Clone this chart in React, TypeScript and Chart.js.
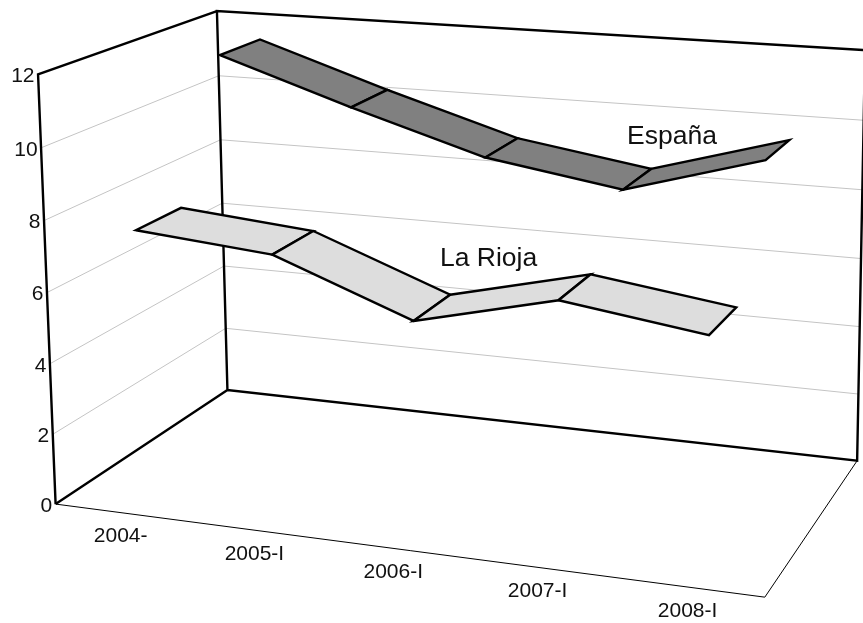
import React, { useEffect, useRef } from "react";
import { Chart, registerables } from "chart.js";

Chart.register(...registerables);

// ---- data ----
const categories = ["2004-", "2005-I", "2006-I", "2007-I", "2008-I"];
const espana = [11.45, 10.15, 8.95, 8.3, 9.4];
const laRioja = [7.56, 7.2, 5.72, 6.63, 6.06];
const valueTicks = [0, 2, 4, 6, 8, 10, 12];
const seriesNames = ["España", "La Rioja"];

const W = 863;
const H = 623;
const Y_MAX = 12;
const FONT = '"Liberation Sans", Arial, sans-serif';

// ---- 3D box camera, fitted to the box's corners ----
// [category 0..1, value 0..1, depth 0..1] -> [px, px]
const boxCorners = [
  [0, 0, 0, 55.5, 504], [1, 0, 0, 765, 597], [1, 0, 1, 857, 461], [0, 0, 1, 227.5, 390],
  [0, 1, 0, 38, 74.5], [0, 1, 1, 217, 11], [1, 1, 1, 865, 50],
];

function solve(A: number[][], b: number[]) {
  const n = b.length;
  const M = A.map((r, i) => [...r, b[i]]);
  for (let i = 0; i < n; i++) {
    let p = i;
    for (let k = i; k < n; k++) if (Math.abs(M[k][i]) > Math.abs(M[p][i])) p = k;
    [M[i], M[p]] = [M[p], M[i]];
    for (let k = 0; k < n; k++) {
      if (k === i) continue;
      const f = M[k][i] / M[i][i];
      for (let j = i; j <= n; j++) M[k][j] -= f * M[i][j];
    }
  }
  return M.map((r, i) => r[n] / r[i]);
}

function fitCamera() {
  const R: number[][] = [];
  const B: number[] = [];
  for (const [x, y, z, u, v] of boxCorners) {
    R.push([x, y, z, 1, 0, 0, 0, 0, -u * x, -u * y, -u * z]); B.push(u);
    R.push([0, 0, 0, 0, x, y, z, 1, -v * x, -v * y, -v * z]); B.push(v);
  }
  const n = 11;
  const A = Array.from({ length: n }, (_, i) =>
    Array.from({ length: n }, (_, j) => R.reduce((s, r) => s + r[i] * r[j], 0)));
  const c = Array.from({ length: n }, (_, i) => R.reduce((s, r, k) => s + r[i] * B[k], 0));
  return solve(A, c);
}

const cam = fitCamera();

function project(t: number, value: number, z: number) {
  const y = value / Y_MAX;
  const w = cam[8] * t + cam[9] * y + cam[10] * z + 1;
  return {
    x: (cam[0] * t + cam[1] * y + cam[2] * z + cam[3]) / w,
    y: (cam[4] * t + cam[5] * y + cam[6] * z + cam[7]) / w,
  };
}

const catT = (i: number) => (i + 0.5) / categories.length;

function lineDs(points: { x: number; y: number }[], color: string, width: number, fillColor?: string) {
  return {
    data: points,
    showLine: true,
    borderColor: color,
    borderWidth: width,
    borderJoinStyle: "miter",
    pointRadius: 0,
    pointHoverRadius: 0,
    tension: 0,
    fill: fillColor ? "shape" : false,
    backgroundColor: fillColor || "transparent",
  };
}

function ribbon(values: number[], z0: number, z1: number, drift: number, fillColor: string) {
  const out: any[] = [];
  for (let i = 0; i < values.length - 1; i++) {
    const a = catT(i), b = catT(i + 1);
    const p = [
      project(a, values[i], z0 + drift * a),
      project(b, values[i + 1], z0 + drift * b),
      project(b, values[i + 1], z1 + drift * b),
      project(a, values[i], z1 + drift * a),
    ];
    out.push(lineDs([...p, p[0], p[1]], "#000", 2.4, fillColor));
  }
  return out;
}

function buildDatasets() {
  const painted: any[] = [];
  for (const v of valueTicks) {
    if (v === 0 || v === Y_MAX) continue;
    painted.push(lineDs([project(0, v, 0), project(0, v, 1), project(1, v, 1)], "#c4c4c4", 1));
  }
  painted.push(lineDs([project(0, 0, 0), project(1, 0, 0), project(1, 0, 1)], "#000", 1));
  painted.push(lineDs([project(0, 0, 0), project(0, 0, 1), project(1, 0, 1), project(1, Y_MAX, 1), project(0, Y_MAX, 1), project(0, 0, 1)], "#000", 2.4));
  painted.push(lineDs([project(0, 0, 0), project(0, Y_MAX, 0), project(0, Y_MAX, 1)], "#000", 2.4));
  painted.push(...ribbon(espana, 0.627, 0.878, 0.08, "#808080"));
  painted.push(...ribbon(laRioja, 0.127, 0.377, 0.05, "#dddddd"));
  return painted.reverse(); // Chart.js paints the first dataset last
}

const textPlugin = {
  id: "boxText",
  afterDraw(chart: any) {
    const ctx = chart.ctx;
    ctx.save();
    ctx.fillStyle = "#111";
    ctx.font = `21px ${FONT}`;
    ctx.textBaseline = "middle";
    ctx.textAlign = "right";
    for (const v of valueTicks) {
      const p = project(0, v, 0);
      ctx.fillText(String(v), p.x - 3.5, p.y + 2);
    }
    ctx.textAlign = "center";
    categories.forEach((c, i) => {
      const p = project(catT(i), 0, 0);
      ctx.fillText(c, p.x, p.y + 24);
    });
    ctx.font = `26.5px ${FONT}`;
    ctx.textAlign = "left";
    ctx.textBaseline = "alphabetic";
    ctx.fillText(seriesNames[0], 627, 144);
    ctx.fillText(seriesNames[1], 440, 266);
    ctx.restore();
  },
};

export default function App() {
  const ref = useRef<HTMLCanvasElement>(null);
  useEffect(() => {
    const chart = new Chart(ref.current as HTMLCanvasElement, {
      type: "scatter",
      data: { datasets: buildDatasets() },
      options: {
        animation: false,
        responsive: false,
        events: [],
        layout: { padding: 0 },
        scales: {
          x: { type: "linear", min: 0, max: W, display: false },
          y: { type: "linear", min: 0, max: H, reverse: true, display: false },
        },
        plugins: { legend: { display: false }, tooltip: { enabled: false }, filler: { drawTime: "beforeDatasetDraw" } },
      },
      plugins: [textPlugin],
    } as any);
    return () => chart.destroy();
  }, []);
  return (
    <canvas
      ref={ref}
      width={W}
      height={H}
      style={{ position: "absolute", left: 0, top: 0, width: W, height: H, display: "block", background: "#fff" }}
    />
  );
}
